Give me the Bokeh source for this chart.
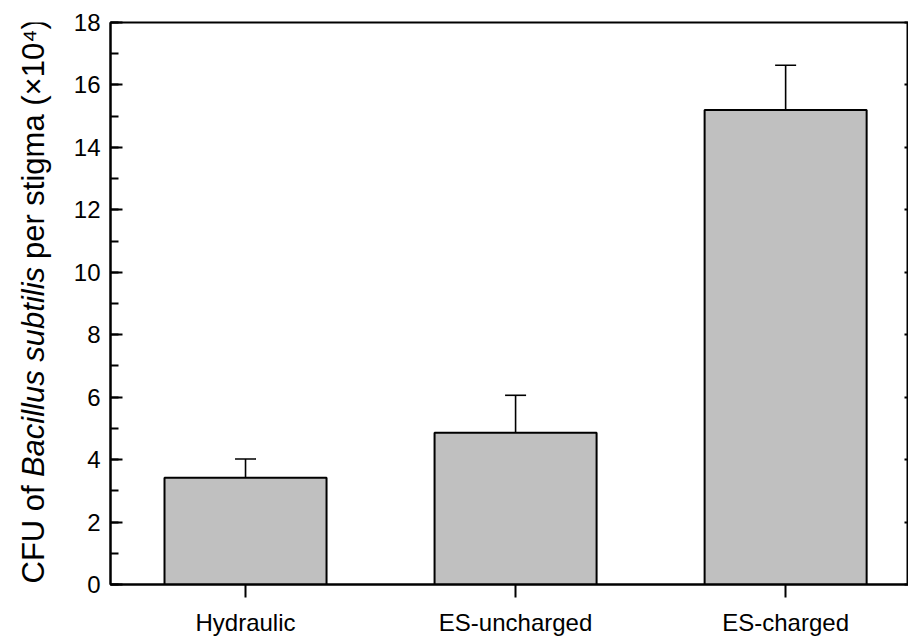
import numpy as np
from bokeh.plotting import figure
from bokeh.layouts import row
from bokeh.models import (Range1d, FixedTicker, SingleIntervalTicker, LinearAxis,
                          ColumnDataSource, Whisker, TeeHead)
from bokeh.core.properties import value
from bokeh.embed import file_html
from bokeh.resources import INLINE

# ---- data ----
categories = ["Hydraulic", "ES-uncharged", "ES-charged"]
cfu_mean = [3.42, 4.86, 15.2]
cfu_err = [0.60, 1.20, 1.43]
y_ticks = [0, 2, 4, 6, 8, 10, 12, 14, 16, 18]

xpos = list(np.arange(len(categories)) + 0.5)
upper = [m + e for m, e in zip(cfu_mean, cfu_err)]
src = ColumnDataSource(dict(x=xpos, mean=cfu_mean, upper=upper, cat=categories))

FONT = "Liberation Sans"
H = 638
LW = 60            # width of the strip holding the y-axis title
TOP, BOT = 22, 52  # borders shared by both figures

# ---------------- main chart ----------------
p = figure(width=908 - LW, height=H, output_backend="svg", toolbar_location=None,
           title=None,
           x_range=Range1d(0, 2.955), y_range=Range1d(0, 18),
           min_border_left=110 - LW, min_border_top=TOP, min_border_bottom=BOT,
           min_border_right=0)
p.xgrid.visible = False
p.ygrid.visible = False
p.outline_line_color = "black"
p.outline_line_width = 2
p.background_fill_color = "white"

p.vbar(x="x", top="mean", width=0.6, bottom=0, source=src,
       fill_color="#c0c0c0", line_color="black", line_width=2)

w = Whisker(source=src, base="x", upper="upper", lower="mean",
            line_color="black", line_width=1.6,
            upper_head=TeeHead(size=21, line_color="black", line_width=1.6),
            lower_head=None)
p.add_layout(w)

# x axis
xa = p.xaxis[0]
xa.ticker = FixedTicker(ticks=xpos)
xa.major_label_overrides = {float(x): c for x, c in zip(xpos, categories)}
xa.major_tick_out = 13
xa.major_tick_in = 0
xa.minor_tick_out = 0
xa.minor_tick_in = 0
xa.axis_line_width = 2
xa.major_tick_line_width = 2
xa.major_label_text_font = FONT
xa.major_label_text_font_size = "24px"
xa.major_label_text_color = "black"
xa.major_label_standoff = 11

# y axis
ya = p.yaxis[0]
ya.ticker = SingleIntervalTicker(interval=2, num_minor_ticks=2)
ya.major_tick_in = 12
ya.major_tick_out = 0
ya.minor_tick_in = 8
ya.minor_tick_out = 0
ya.axis_line_width = 2
ya.major_tick_line_width = 2
ya.minor_tick_line_width = 2
ya.major_label_text_font = FONT
ya.major_label_text_font_size = "24px"
ya.major_label_text_color = "black"
ya.major_label_standoff = 10

# right axis: only short stubs of the inward ticks (the box runs past the window)
ra = LinearAxis(ticker=FixedTicker(ticks=y_ticks))
ra.major_label_overrides = {v: "" for v in y_ticks}
ra.major_tick_in = 4
ra.major_tick_out = 0
ra.minor_tick_in = 0
ra.minor_tick_out = 0
ra.major_tick_line_width = 2
ra.axis_line_color = None
ra.major_label_text_font_size = "1px"
ra.major_label_standoff = 0
p.add_layout(ra, "right")

# ---------------- y-axis title strip ----------------
t = figure(width=LW, height=H, output_backend="svg",
           toolbar_location=None, title=None,
           x_range=Range1d(0, LW), y_range=Range1d(BOT, H - TOP),
           x_axis_type=None, y_axis_type=None,
           min_border_left=0, min_border_right=0, min_border_top=TOP,
           min_border_bottom=BOT)
t.xgrid.visible = False
t.ygrid.visible = False
t.outline_line_color = None

fs = 31
widths = {"C": 722, "F": 611, "U": 722, " ": 278, "o": 556, "f": 278, "B": 667,
          "a": 556, "c": 500, "i": 222, "l": 222, "u": 556, "s": 500, "b": 556,
          "t": 278, "p": 556, "e": 556, "r": 333, "g": 556, "m": 833, "(": 333,
          "×": 584, "1": 556, "0": 556, "⁴": 333, ")": 333}

def tw(s, size):
    return sum(widths.get(ch, 556) for ch in s) * size / 1000.0

mid_to_base = (0.905 - (0.905 + 0.212) / 2) * fs   # middle of text box -> baseline
space = tw(" ", fs)

base = 44          # x of the baseline of the title
segs = [("CFU of", "normal"),
        ("Bacillus subtilis", "italic"),
        ("per stigma (×10⁴)", "normal")]
y0 = BOT + 1
for text, style in segs:
    t.text(x=[base - mid_to_base], y=[y0], text=[text], angle=np.pi / 2,
           text_font=value(FONT), text_font_style=style,
           text_font_size=f"{fs}px", text_color="black",
           text_align="left", text_baseline="middle")
    y0 += tw(text, fs) + space

layout = row(t, p)
open("out.html", "w").write(file_html(layout, INLINE))
